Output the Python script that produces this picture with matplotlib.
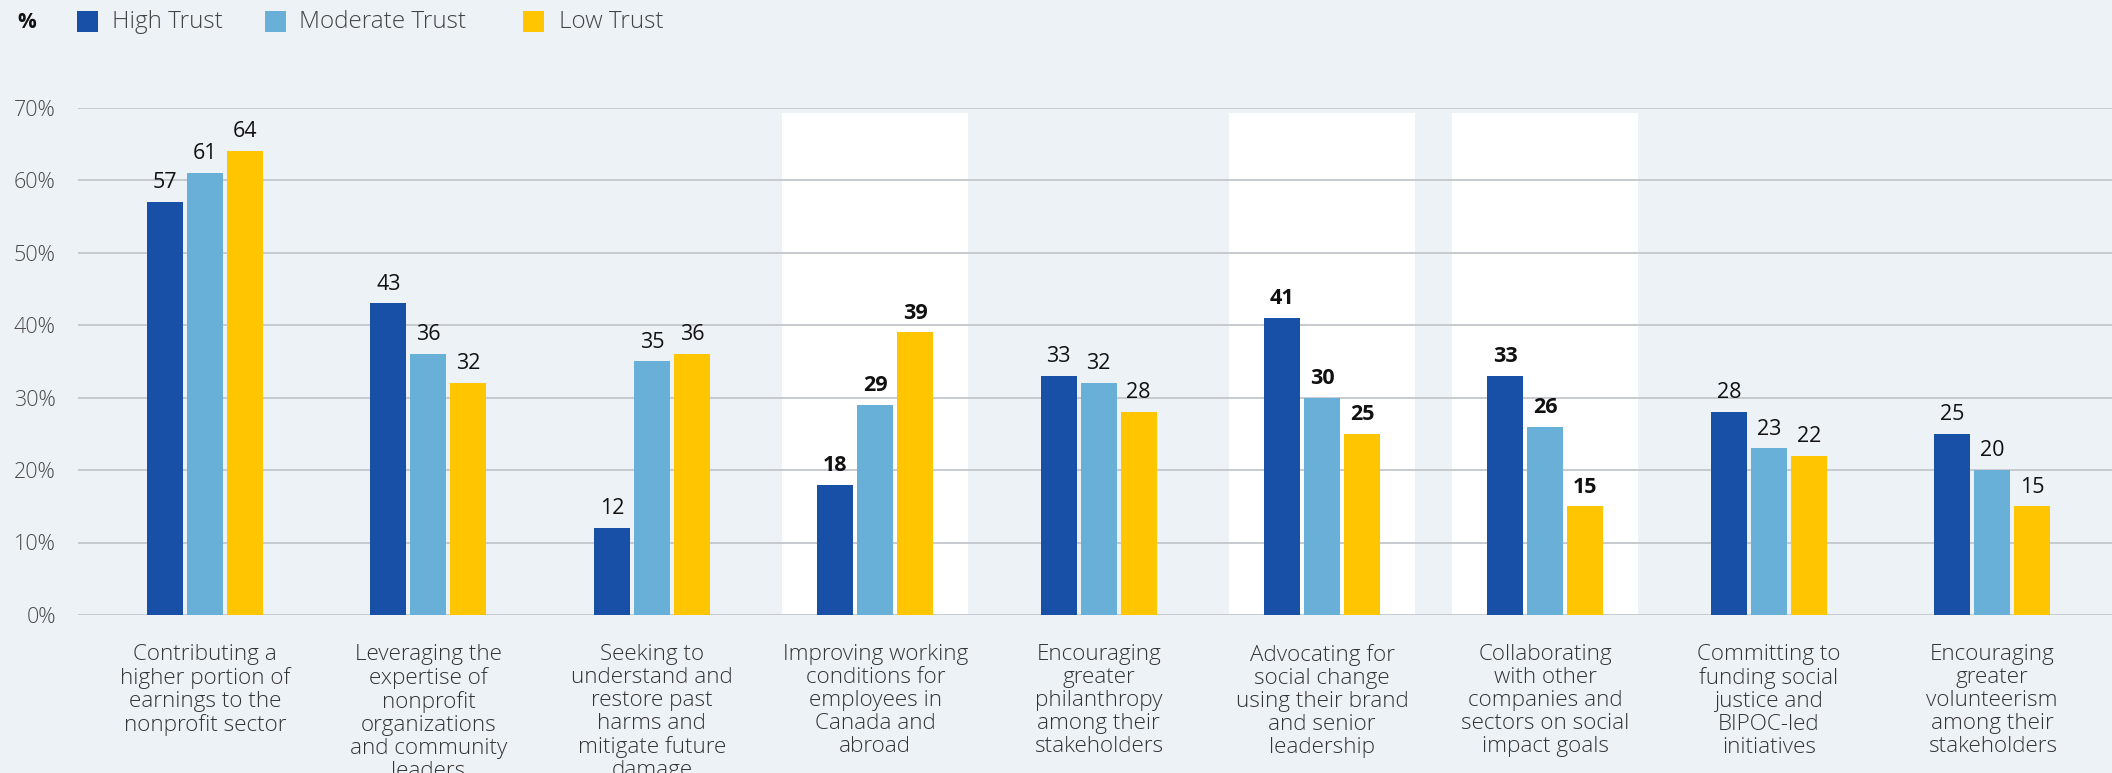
import matplotlib
matplotlib.use("Agg")
import matplotlib.pyplot as plt
from matplotlib.patches import Rectangle
import numpy as np

categories = [
    "Contributing a\nhigher portion of\nearnings to the\nnonprofit sector",
    "Leveraging the\nexpertise of\nnonprofit\norganizations\nand community\nleaders",
    "Seeking to\nunderstand and\nrestore past\nharms and\nmitigate future\ndamage",
    "Improving working\nconditions for\nemployees in\nCanada and\nabroad",
    "Encouraging\ngreater\nphilanthropy\namong their\nstakeholders",
    "Advocating for\nsocial change\nusing their brand\nand senior\nleadership",
    "Collaborating\nwith other\ncompanies and\nsectors on social\nimpact goals",
    "Committing to\nfunding social\njustice and\nBIPOC-led\ninitiatives",
    "Encouraging\ngreater\nvolunteerism\namong their\nstakeholders",
]
series_names = ["High Trust", "Moderate Trust", "Low Trust"]
high_trust = [57, 43, 12, 18, 33, 41, 33, 28, 25]
moderate_trust = [61, 36, 35, 29, 32, 30, 26, 23, 20]
low_trust = [64, 32, 36, 39, 28, 25, 15, 22, 15]
highlighted = [3, 5, 6]
y_ticks = [0, 10, 20, 30, 40, 50, 60, 70]

colors = ["#1850A8", "#69B0D8", "#FFC600"]
bg = "#EDF2F7"
grid_col = "#C3C7CC"
FONT = "Open Sans"

W, H = 2112, 773
fig = plt.figure(figsize=(W / 100, H / 100), dpi=100, facecolor=bg)
ax = fig.add_axes([78 / W, 1 - 615 / H, 1 - 78 / W, (615 - 107.5) / H])
ax.set_facecolor(bg)

x = np.arange(len(categories))
spacing_px = 223.4
bar_w = 36 / spacing_px
step = 40 / spacing_px

# highlighted columns
for i in highlighted:
    ax.add_patch(Rectangle((i - 93 / spacing_px, 0), 186 / spacing_px, 69.3,
                           facecolor="white", edgecolor="none", zorder=0))

for yv in y_ticks:
    ax.axhline(yv, color=grid_col, lw=1.3, zorder=1)

all_series = [high_trust, moderate_trust, low_trust]
for k, (vals, c, name) in enumerate(zip(all_series, colors, series_names)):
    xs = x + (k - 1) * step
    ax.bar(xs, vals, width=bar_w, color=c, zorder=2, label=name)
    for i, (xx, v) in enumerate(zip(xs, vals)):
        bold = i in highlighted
        ax.text(xx, v + 1.2, f"{v}", ha="center", va="bottom",
                fontsize=15.5, family=FONT,
                fontweight="bold" if bold else "normal", color="#111111", zorder=3)

ax.set_xlim(-0.569, (W - 205) / spacing_px)
ax.set_ylim(0, 70)
ax.set_yticks(y_ticks)
ax.set_yticklabels([f"{v}%" for v in y_ticks], fontsize=15.5, family=FONT,
                   fontweight="light", color="#4A4A4A")
ax.tick_params(axis="y", length=0, pad=16)
ax.set_xticks(x)
ax.set_xticklabels(categories, fontsize=16.2, family=FONT, fontweight="light",
                   color="#333333", linespacing=1.12, va="top")
ax.tick_params(axis="x", length=0, pad=21)
for s in ax.spines.values():
    s.set_visible(False)

# legend row
fig.text(17 / W, 1 - 22 / H, "%", fontsize=15, family=FONT, fontweight="bold",
         color="#111111", va="center", ha="left")
sq_x = [77, 265, 523]
txt_x = [112, 299, 559]
for c, name, sx, tx in zip(colors, series_names, sq_x, txt_x):
    fig.patches.append(Rectangle((sx / W, 1 - 32 / H), 21 / W, 21 / H,
                                 transform=fig.transFigure, facecolor=c,
                                 edgecolor="none"))
    fig.text(tx / W, 1 - 22 / H, name, fontsize=17.5, family=FONT,
             fontweight="light", color="#444444", va="center", ha="left")

fig.savefig("out.png", dpi=100, facecolor=bg)
